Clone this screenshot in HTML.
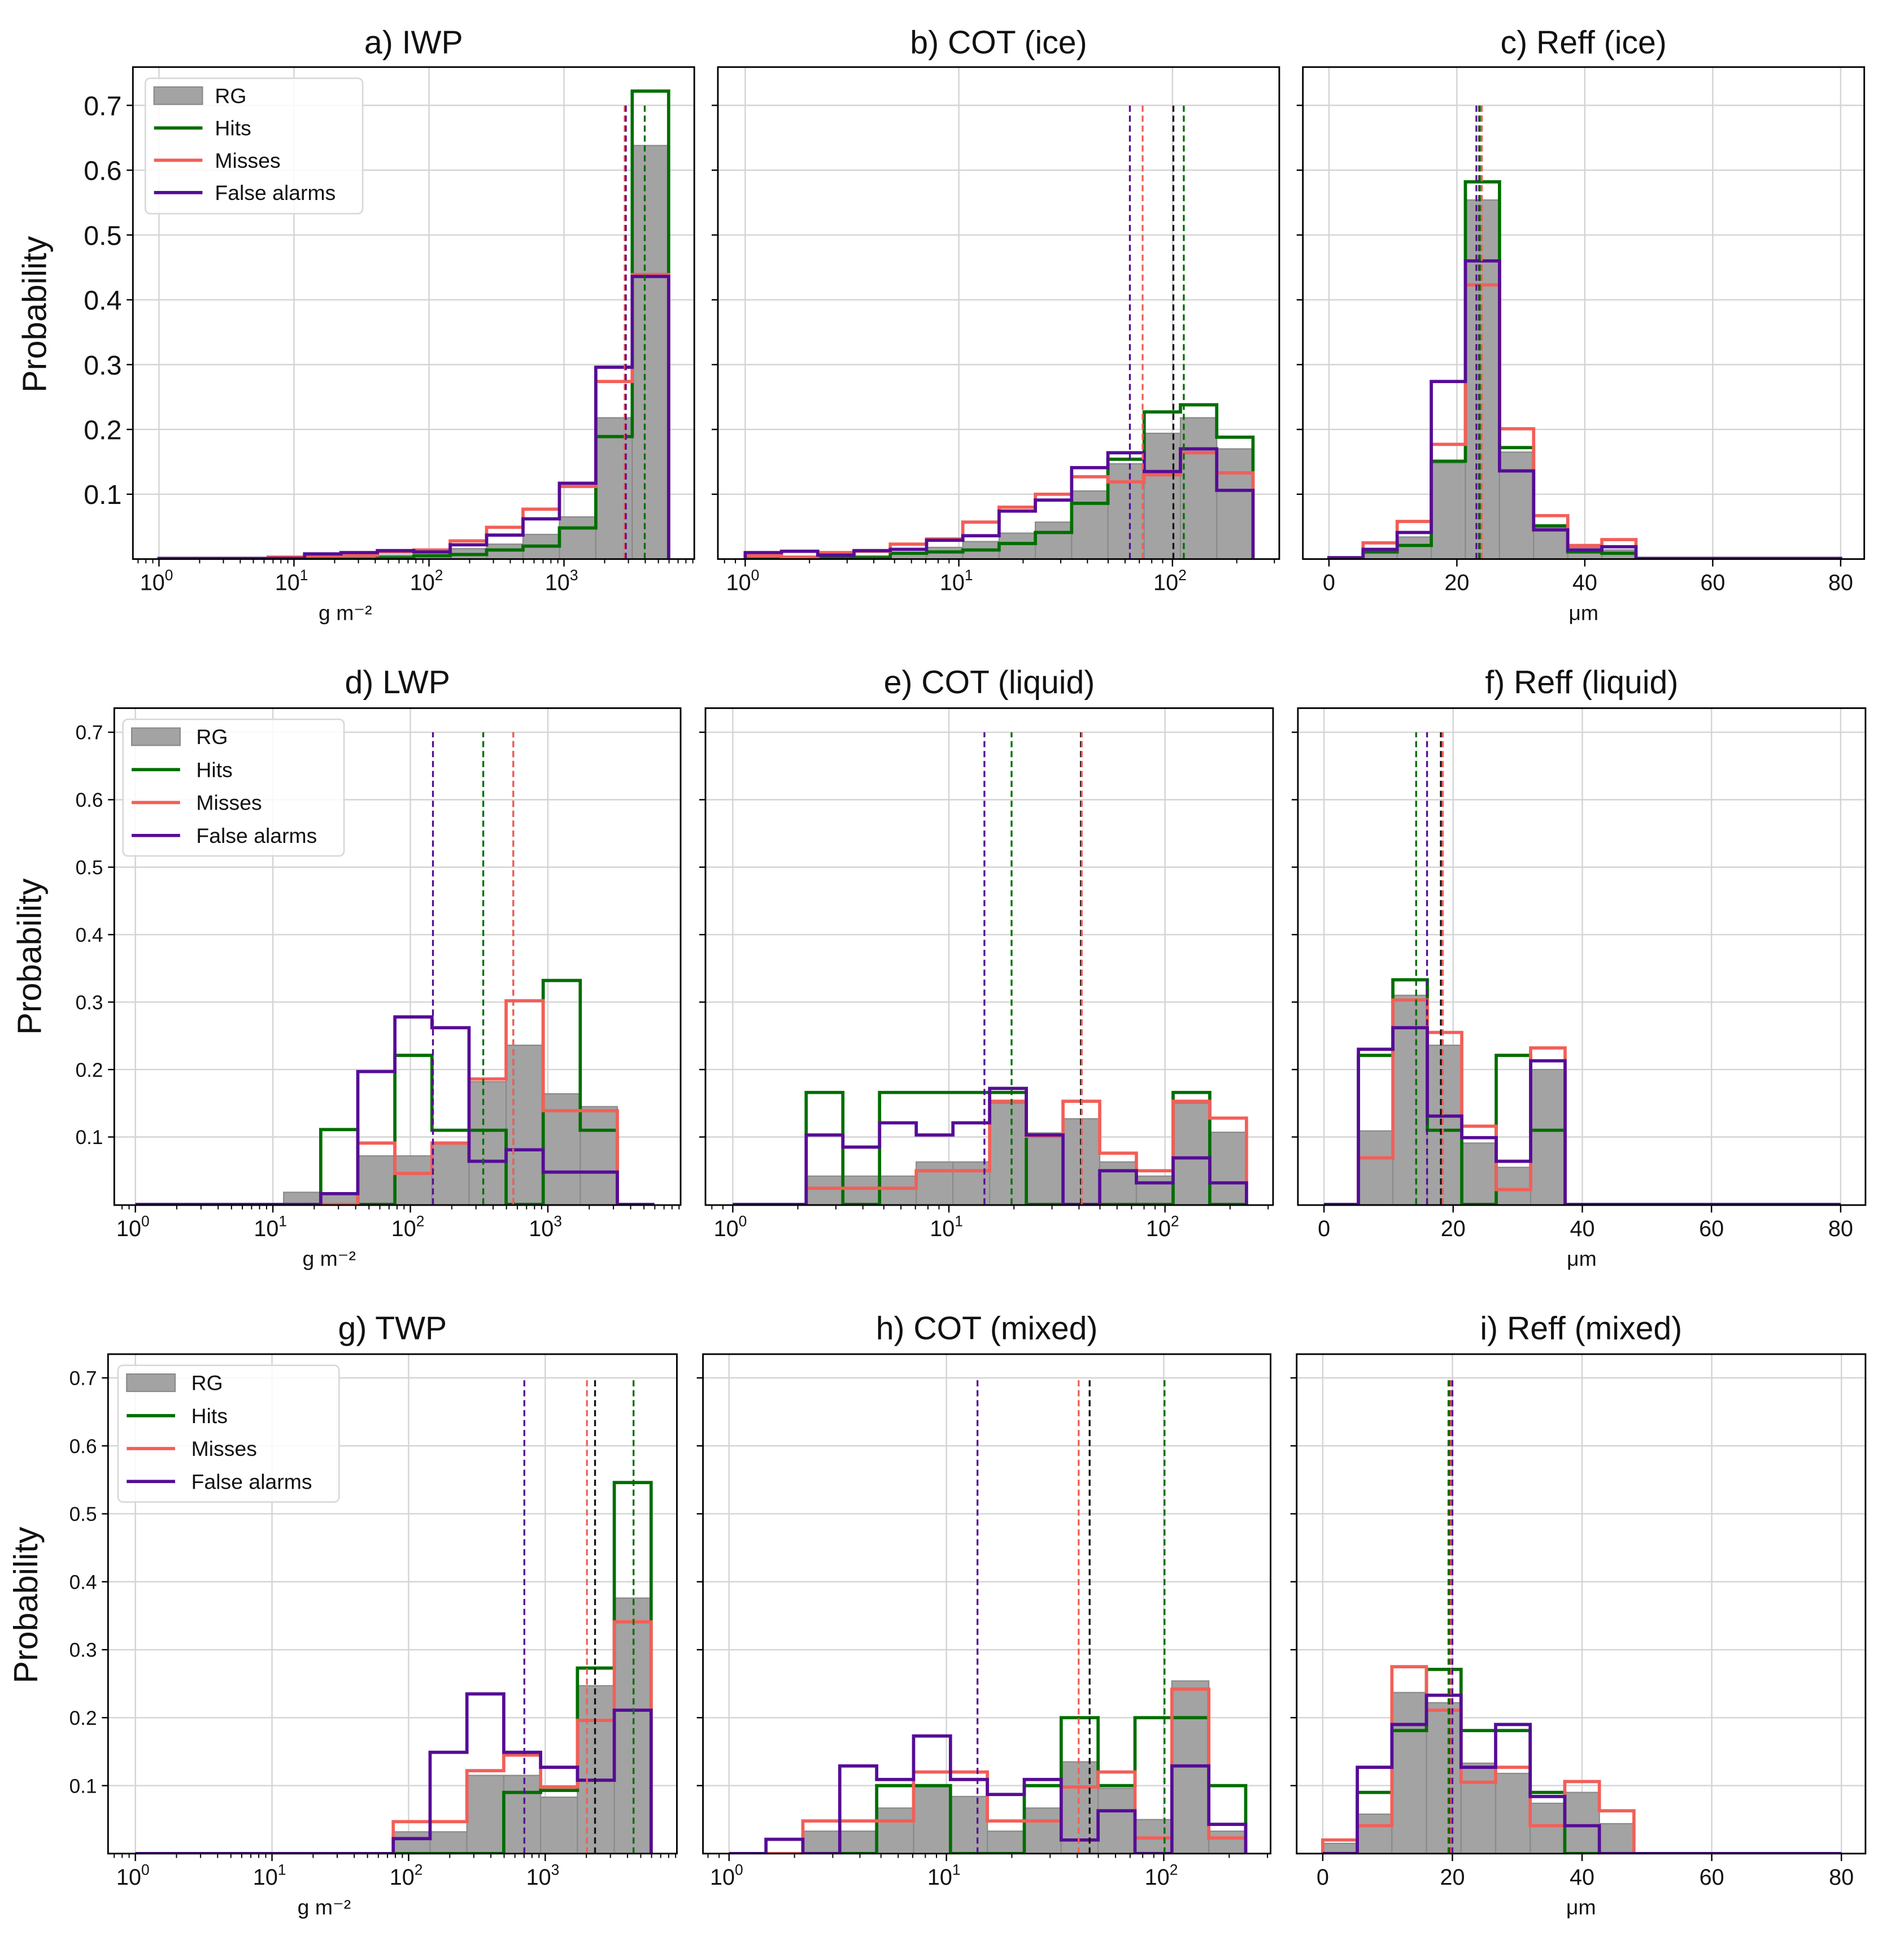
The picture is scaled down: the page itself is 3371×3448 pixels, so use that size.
<!DOCTYPE html>
<html><head><meta charset="utf-8"><style>
html,body{margin:0;padding:0;background:#fff;}
svg{display:block;font-family:"Liberation Sans","DejaVu Sans",sans-serif;}
</style></head><body>
<svg id="fig" xmlns="http://www.w3.org/2000/svg" width="3371" height="3448" viewBox="0 0 1533 1568" preserveAspectRatio="none"></svg>
<script>
// ---- data: bin ranges ----
const wpBinRange = [0, 3.775];      // log10 range, 14 bins (IWP/LWP/TWP)
const cotBinRange = [0, 2.377];     // log10 range, 14 bins (COT)
const reffBinRange = [0, 80];       // linear range, 15 bins (Reff)
const seriesNames = ["RG", "Hits", "Misses", "False alarms"];
// a) IWP
const aRG = [0.001,0.001,0.002,0.002,0.003,0.004,0.006,0.011,0.016,0.023,0.038,0.065,0.218,0.638];
const aHits = [0,0,0,0,0,0,0.002,0.005,0.007,0.014,0.020,0.048,0.189,0.722];
const aMisses = [0.001,0.001,0.001,0.003,0.005,0.006,0.011,0.014,0.028,0.049,0.077,0.112,0.274,0.439];
const aFA = [0.001,0.001,0.001,0.001,0.008,0.010,0.013,0.011,0.022,0.037,0.062,0.117,0.296,0.436];
const aMeans = [2818, 3963, 2818, 2871]; // RG, Hits, Misses, FA
// b) COT (ice)
const bRG = [0.001,0.001,0.002,0.005,0.010,0.018,0.027,0.040,0.057,0.105,0.147,0.194,0.218,0.170];
const bHits = [0,0,0.001,0.002,0.009,0.011,0.014,0.024,0.041,0.086,0.154,0.227,0.238,0.188];
const bMisses = [0.005,0.003,0.010,0.012,0.023,0.031,0.057,0.080,0.100,0.127,0.119,0.130,0.164,0.133];
const bFA = [0.010,0.012,0.006,0.013,0.015,0.029,0.036,0.074,0.091,0.141,0.164,0.135,0.170,0.106];
const bMeans = [101, 113, 72.5, 63.2];
// c) Reff (ice)
const cRG = [0.002,0.009,0.034,0.148,0.554,0.165,0.053,0.018,0.014,0,0,0,0,0,0];
const cHits = [0.002,0.011,0.021,0.151,0.582,0.172,0.051,0.011,0.009,0,0,0,0,0,0];
const cMisses = [0.002,0.025,0.058,0.177,0.423,0.201,0.067,0.021,0.030,0,0,0,0,0,0];
const cFA = [0.002,0.015,0.041,0.274,0.460,0.136,0.045,0.014,0.019,0.001,0.001,0.001,0.001,0.001,0.001];
const cMeans = [23.5, 23.6, 23.9, 23.05];
// d) LWP
const dRG = [0,0,0,0,0.018,0.015,0.072,0.072,0.091,0.182,0.236,0.164,0.145,0];
const dHits = [0,0,0,0,0,0.111,0,0.221,0.110,0.110,0,0.332,0.110,0];
const dMisses = [0,0,0,0,0,0,0.091,0.046,0.091,0.186,0.302,0.139,0.139,0];
const dFA = [0,0,0,0,0,0.016,0.197,0.278,0.262,0.064,0.081,0.048,0.048,0];
const dMeans = [560, 339, 560, 146];
// e) COT (liquid)
const eRG = [0,0,0.042,0.042,0.042,0.063,0.063,0.150,0.106,0.127,0.063,0.042,0.150,0.107];
const eHits = [0,0,0.166,0,0.166,0.166,0.166,0.166,0,0,0,0,0.166,0];
const eMisses = [0,0,0.024,0.024,0.024,0.050,0.050,0.153,0.101,0.153,0.076,0.050,0.153,0.128];
const eFA = [0,0,0.103,0.085,0.121,0.103,0.121,0.172,0.103,0,0.050,0.032,0.069,0.032];
const eMeans = [40.8, 19.5, 41.2, 14.6];
// f) Reff (liquid)
const fRG = [0,0.109,0.310,0.236,0.091,0.055,0.200,0,0,0,0,0,0,0,0];
const fHits = [0,0.221,0.333,0.110,0,0.221,0.110,0,0,0,0,0,0,0,0];
const fMisses = [0,0.069,0.303,0.255,0.116,0.022,0.232,0,0,0,0,0,0,0,0];
const fFA = [0,0.230,0.262,0.131,0.099,0.064,0.213,0,0,0,0,0,0,0,0];
const fMeans = [18.1, 14.27, 18.4, 15.96];
// g) TWP
const gRG = [0,0,0,0,0,0,0,0.032,0.032,0.115,0.115,0.083,0.247,0.376];
const gHits = [0,0,0,0,0,0,0,0,0,0,0.090,0.093,0.273,0.546];
const gMisses = [0,0,0,0,0,0,0,0.047,0.047,0.122,0.145,0.098,0.196,0.341];
const gFA = [0,0,0,0,0,0,0,0.022,0.149,0.235,0.149,0.127,0.108,0.211];
const gMeans = [2315, 4430, 2020, 703];
// h) COT (mixed)
const hRG = [0,0,0.033,0.033,0.067,0.100,0.084,0.033,0.067,0.135,0.096,0.050,0.254,0.033];
const hHits = [0,0,0,0,0.100,0.100,0,0,0.100,0.200,0.100,0.200,0.200,0.100];
const hMisses = [0,0,0.048,0.048,0.048,0.120,0.120,0.048,0.048,0.098,0.120,0.023,0.242,0.023];
const hFA = [0,0.021,0,0.129,0.109,0.173,0.109,0.087,0.109,0.020,0.063,0,0.129,0.043];
const hMeans = [45.6, 100.8, 40.6, 13.9];
// i) Reff (mixed)
const iRG = [0.015,0.058,0.237,0.222,0.133,0.118,0.074,0.090,0.044,0,0,0,0,0,0];
const iHits = [0,0.090,0.181,0.271,0.181,0.181,0.090,0,0,0,0,0,0,0,0];
const iMisses = [0.020,0.041,0.275,0.211,0.105,0.127,0.041,0.106,0.063,0,0,0,0,0,0];
const iFA = [0,0.127,0.190,0.233,0.127,0.190,0.084,0.041,0,0,0,0,0,0,0];
const iMeans = [19.7, 19.4, 19.8, 20.0];
const yTicks = [0.1,0.2,0.3,0.4,0.5,0.6,0.7];
const linTicks = [0,20,40,60,80];

// ---- layout ----
const NS = "http://www.w3.org/2000/svg";
const svg = document.getElementById("fig");
const COL = {rg:"#a3a3a3", rgEdge:"#8a8a8a", hits:"#006e00", misses:"#f25f58", fa:"#560c96"};
const rows = [
  {top:54, bottom:450, zero:450, per:521.7, ytf:22, title:43, ylab:[37,253], legend:{x:117,y:63,w:175,h:109,dy:26,tx:173,fs:17}},
  {top:570, bottom:970, zero:969.5, per:543, ytf:16, title:558, ylab:[33,770], legend:{x:99,y:579,w:178,h:110,dy:26.5,tx:158,fs:17}},
  {top:1090, bottom:1492, zero:1492, per:547, ytf:16, title:1078, ylab:[30,1292], legend:{x:95,y:1099,w:178,h:110,dy:26.5,tx:154,fs:17}}
];
const panels = [
  {id:"a", title:"a) IWP", row:0, col:0, left:107, right:559, type:"log", o:128, s:108.7, rng:wpBinRange, nb:14, majors:[0,1,2,3], xl:"g m⁻²", d:[aRG,aHits,aMisses,aFA], m:aMeans},
  {id:"b", title:"b) COT (ice)", row:0, col:1, left:578, right:1030, type:"log", o:600, s:172, rng:cotBinRange, nb:14, majors:[0,1,2], xl:"", d:[bRG,bHits,bMisses,bFA], m:bMeans},
  {id:"c", title:"c) Reff (ice)", row:0, col:2, left:1049, right:1501, type:"lin", o:1070, s:5.15, rng:reffBinRange, nb:15, xl:"μm", d:[cRG,cHits,cMisses,cFA], m:cMeans},
  {id:"d", title:"d) LWP", row:1, col:0, left:92, right:548, type:"log", o:109, s:110.7, rng:wpBinRange, nb:14, majors:[0,1,2,3], xl:"g m⁻²", d:[dRG,dHits,dMisses,dFA], m:dMeans},
  {id:"e", title:"e) COT (liquid)", row:1, col:1, left:568, right:1025, type:"log", o:590, s:174, rng:cotBinRange, nb:14, majors:[0,1,2], xl:"", d:[eRG,eHits,eMisses,eFA], m:eMeans},
  {id:"f", title:"f) Reff (liquid)", row:1, col:2, left:1045, right:1502, type:"lin", o:1066, s:5.2, rng:reffBinRange, nb:15, xl:"μm", d:[fRG,fHits,fMisses,fFA], m:fMeans},
  {id:"g", title:"g) TWP", row:2, col:0, left:87, right:545, type:"log", o:109, s:110, rng:wpBinRange, nb:14, majors:[0,1,2,3], xl:"g m⁻²", d:[gRG,gHits,gMisses,gFA], m:gMeans},
  {id:"h", title:"h) COT (mixed)", row:2, col:1, left:566, right:1023, type:"log", o:587, s:175, rng:cotBinRange, nb:14, majors:[0,1,2], xl:"", d:[hRG,hHits,hMisses,hFA], m:hMeans},
  {id:"i", title:"i) Reff (mixed)", row:2, col:2, left:1044, right:1502, type:"lin", o:1065, s:5.22, rng:reffBinRange, nb:15, xl:"μm", d:[iRG,iHits,iMisses,iFA], m:iMeans}
];

function el(tag, attrs, parent){
  const e = document.createElementNS(NS, tag);
  for (const k in attrs) e.setAttribute(k, attrs[k]);
  (parent||svg).appendChild(e);
  return e;
}

panels.forEach(p => {
  const r = rows[p.row];
  const g = el("g", {});
  
  
  const X = p.type === "log" ? (v => p.o + p.s * Math.log10(v)) : (v => p.o + p.s * v);
  const XB = b => p.o + p.s * b;
  const Y = v => r.zero - r.per * v;
  const W = p.right - p.left, H = r.bottom - r.top;
  const clipId = "clip" + p.id;
  const cp = el("clipPath", {id:clipId}, g);
  el("rect", {x:p.left, y:r.top, width:W, height:H}, cp);

  const grid = el("g", {stroke:"#d4d4d4", "stroke-width":"1.1"}, g);
  
  
  yTicks.forEach(t => el("line", {x1:p.left, x2:p.right, y1:Y(t), y2:Y(t)}, grid));
  const majorsPx = p.type === "log" ? p.majors.map(k => XB(k)) : linTicks.map(t => X(t));
  majorsPx.forEach(x => el("line", {x1:x, x2:x, y1:r.top, y2:r.bottom}, grid));

  const nb = p.nb, lo = p.rng[0], hi = p.rng[1], bw = (hi - lo) / nb;
  const edge = k => XB(lo + k * bw);
  const body = el("g", {"clip-path":"url(#" + clipId + ")"}, g);
  const rgG = el("g", {}, body);
  
  
  p.d[0].forEach((v, k) => {
    if (v <= 0) return;
    const b = el("rect", {x:edge(k), y:Y(v), width:edge(k+1)-edge(k), height:Y(0)-Y(v), fill:COL.rg, stroke:COL.rgEdge, "stroke-width":"1"}, rgG);
    
    
  });
  const lineCols = [null, COL.hits, COL.misses, COL.fa];
  const lineNames = [null, "hits-step", "misses-step", "false-alarms-step"];
  [1,2,3].forEach(si => {
    let d = "M" + edge(0) + "," + Y(0);
    p.d[si].forEach((v, k) => { d += " L" + edge(k) + "," + Y(v) + " L" + edge(k+1) + "," + Y(v); });
    d += " L" + edge(nb) + "," + Y(0);
    const pa = el("path", {d:d, fill:"none", stroke:lineCols[si], "stroke-width":"2.6", "stroke-linejoin":"miter"}, body);
    
    
  });
  const dashCols = ["#111", COL.hits, COL.misses, COL.fa];
  const dashNames = ["rg-mean-line", "hits-mean-line", "misses-mean-line", "false-alarms-mean-line"];
  [0,1,2,3].forEach(si => {
    const x = X(p.m[si]);
    const ln = el("line", {x1:x, x2:x, y1:Y(0), y2:Y(0.7), stroke:dashCols[si], "stroke-width":"1.5", "stroke-dasharray":"5,3"}, body);
    
    
  });

  const fr = el("rect", {x:p.left, y:r.top, width:W, height:H, fill:"none", stroke:"#000", "stroke-width":"1.3"}, g);
  
  

  const yax = el("g", {}, g);
  
  
  yTicks.forEach(t => {
    el("line", {x1:p.left-5, x2:p.left, y1:Y(t), y2:Y(t), stroke:"#000", "stroke-width":"1.1"}, yax);
    if (p.col === 0) {
      const tx = el("text", {x:p.left-9, y:Y(t)+r.ytf*0.36, "text-anchor":"end", "font-size":r.ytf, fill:"#111"}, yax);
      tx.textContent = t.toFixed(1);
      
      
    }
  });
  if (p.col === 0) {
    const yl = el("text", {x:r.ylab[0], y:r.ylab[1], "text-anchor":"middle", "font-size":"27", fill:"#111", transform:"rotate(-90 " + r.ylab[0] + " " + r.ylab[1] + ")"}, g);
    yl.textContent = "Probability";
    
    
  }

  const xax = el("g", {}, g);
  
  
  const bY = r.bottom;
  if (p.type === "log") {
    p.majors.forEach(k => {
      const x = XB(k);
      el("line", {x1:x, x2:x, y1:bY, y2:bY+6, stroke:"#000", "stroke-width":"1.1"}, xax);
      const tx = el("text", {x:x-2, y:bY+25, "text-anchor":"middle", "font-size":"18", fill:"#111"}, xax);
      
      
      const t1 = el("tspan", {}, tx); t1.textContent = "10";
      const t2 = el("tspan", {dy:"-8", "font-size":"12"}, tx); t2.textContent = String(k);
    });
    for (let n = -1; n <= 4; n++) for (let m = 2; m <= 9; m++) {
      const x = XB(n + Math.log10(m));
      if (x < p.left || x > p.right) continue;
      el("line", {x1:x, x2:x, y1:bY, y2:bY+3.5, stroke:"#000", "stroke-width":"0.9"}, xax);
    }
  } else {
    linTicks.forEach(t => {
      const x = X(t);
      el("line", {x1:x, x2:x, y1:bY, y2:bY+6, stroke:"#000", "stroke-width":"1.1"}, xax);
      const tx = el("text", {x:x, y:bY+25, "text-anchor":"middle", "font-size":"18", fill:"#111"}, xax);
      tx.textContent = String(t);
      
      
    });
  }
  if (p.xl) {
    const xl = el("text", {x:(p.left+p.right)/2 + (p.col===0 ? -55 : 0), y:bY+49, "text-anchor":"middle", "font-size":"17", fill:"#111"}, g);
    xl.textContent = p.xl;
    
    
  }
  const ti = el("text", {x:(p.left+p.right)/2, y:r.title, "text-anchor":"middle", "font-size":"26", fill:"#111"}, g);
  ti.textContent = p.title;
  
  

  if (p.col === 0) {
    const L = r.legend;
    const lg = el("g", {}, g);
    
    
    el("rect", {x:L.x, y:L.y, width:L.w, height:L.h, rx:4, fill:"#fff", "fill-opacity":"0.85", stroke:"#d8d8d8", "stroke-width":"1.2"}, lg);
    seriesNames.forEach((nm, si) => {
      const cy = L.y + 14 + si * L.dy;
      const ent = el("g", {}, lg);
      
      
      if (si === 0) {
        el("rect", {x:L.x+7, y:cy-7, width:39, height:14, fill:COL.rg, stroke:COL.rgEdge, "stroke-width":"1"}, ent);
      } else {
        el("line", {x1:L.x+7, x2:L.x+46, y1:cy, y2:cy, stroke:lineCols[si], "stroke-width":"2.6"}, ent);
      }
      const tx = el("text", {x:L.tx, y:cy+6, "font-size":L.fs, fill:"#111"}, ent);
      tx.textContent = nm;
    });
  }
});
</script>
</body></html>
